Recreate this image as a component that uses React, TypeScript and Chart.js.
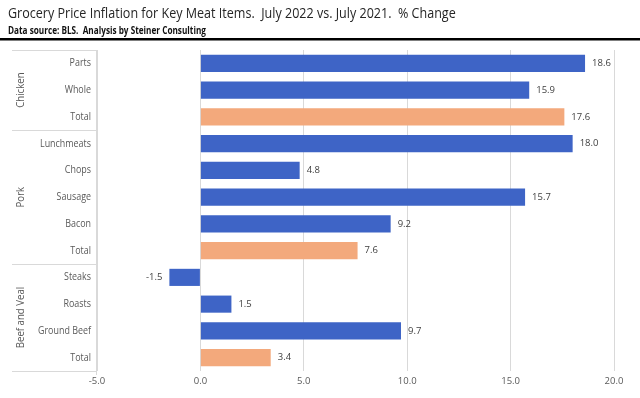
import React, { useEffect, useRef } from "react";
import { Chart, registerables } from "chart.js";

Chart.register(...registerables);

const TITLE = "Grocery Price Inflation for Key Meat Items.  July 2022 vs. July 2021.  % Change";
const SUBTITLE = "Data source: BLS.  Analysis by Steiner Consulting";

const items = ["Parts", "Whole", "Total", "Lunchmeats", "Chops", "Sausage", "Bacon", "Total", "Steaks", "Roasts", "Ground Beef", "Total"];
const values = [18.6, 15.9, 17.6, 18.0, 4.8, 15.7, 9.2, 7.6, -1.5, 1.5, 9.7, 3.4];
const groupNames = ["Chicken", "Pork", "Beef and Veal"];
const groupStarts = [0, 3, 8];
const groupEnds = [2, 7, 11];
const xTicks = [-5, 0, 5, 10, 15, 20];

const BLUE = "#3E64C6";
const ORANGE = "#F3A97C";
const FONT = "'Open Sans', 'Liberation Sans', sans-serif";

function drawScaled(ctx: any, text: string, x: number, y: number, sx: number, align: string) {
  ctx.save();
  ctx.translate(x, y);
  ctx.scale(sx, 1);
  ctx.textAlign = align;
  ctx.fillText(text, 0, 0);
  ctx.restore();
}

const overlay = {
  id: "overlay",
  afterDraw(chart: any) {
    const ctx = chart.ctx;
    const area = chart.chartArea;
    const y = chart.scales.y;
    const x = chart.scales.x;
    ctx.save();
    ctx.textBaseline = "middle";
    // title
    ctx.fillStyle = "#262626";
    ctx.font = `14.5px ${FONT}`;
    drawScaled(ctx, TITLE, 8, 14, 0.865, "left");
    ctx.font = `bold 10px ${FONT}`;
    ctx.fillStyle = "#111";
    drawScaled(ctx, SUBTITLE, 8, 31, 0.82, "left");
    ctx.fillStyle = "#000";
    ctx.fillRect(0, 38, 640, 2.5);

    // group separators
    ctx.strokeStyle = "#d9d9d9";
    ctx.lineWidth = 1;
    const left = 12;
    const axisX = Math.round(area.left) - 0.5;
    const bounds: number[] = [area.top];
    for (let g = 0; g < groupNames.length - 1; g++) {
      bounds.push((y.getPixelForValue(groupEnds[g]) + y.getPixelForValue(groupStarts[g + 1])) / 2);
    }
    bounds.push(area.bottom);
    bounds.forEach((b) => {
      ctx.beginPath();
      ctx.moveTo(left, Math.round(b) + 0.5);
      ctx.lineTo(axisX, Math.round(b) + 0.5);
      ctx.stroke();
    });
    ctx.beginPath();
    ctx.moveTo(axisX, area.top);
    ctx.lineTo(axisX, area.bottom + 4);
    ctx.stroke();

    // category labels
    ctx.fillStyle = "#595959";
    ctx.font = `10.5px ${FONT}`;
    items.forEach((lab, i) => {
      drawScaled(ctx, lab, 91, y.getPixelForValue(i), 0.85, "right");
    });

    // group labels
    ctx.font = `10.5px ${FONT}`;
    groupNames.forEach((name, g) => {
      const cy = (y.getPixelForValue(groupStarts[g]) + y.getPixelForValue(groupEnds[g])) / 2;
      ctx.save();
      ctx.translate(21, cy);
      ctx.rotate(-Math.PI / 2);
      ctx.scale(0.92, 1);
      ctx.textAlign = "center";
      ctx.fillText(name, 0, 0);
      ctx.restore();
    });

    // data labels
    ctx.fillStyle = "#404040";
    ctx.font = `9.5px ${FONT}`;
    values.forEach((v, i) => {
      const py = y.getPixelForValue(i);
      const px = x.getPixelForValue(v);
      if (v >= 0) {
        drawScaled(ctx, v.toFixed(1), px + 7, py, 1, "left");
      } else {
        drawScaled(ctx, v.toFixed(1), px - 7, py, 1, "right");
      }
    });
    ctx.restore();
  },
};

export default function App() {
  const ref = useRef<HTMLCanvasElement>(null);
  useEffect(() => {
    const chart = new Chart(ref.current!, {
      type: "bar",
      data: {
        labels: items,
        datasets: [
          {
            data: values,
            backgroundColor: items.map((l) => (l === "Total" ? ORANGE : BLUE)),
            categoryPercentage: 0.8,
            barPercentage: 0.8,
          },
        ],
      },
      options: {
        indexAxis: "y",
        responsive: false,
        animation: false,
        layout: { padding: { top: 50, right: 26, left: 0, bottom: 0 } },
        plugins: { legend: { display: false }, tooltip: { enabled: false } },
        scales: {
          x: {
            min: -5,
            max: 20,
            afterBuildTicks: (s: any) => {
              s.ticks = xTicks.map((v) => ({ value: v }));
            },
            afterFit: (s: any) => {
              s.height = 27;
            },
            ticks: {
              callback: (v: any) => Number(v).toFixed(1),
              color: "#595959",
              font: { family: FONT, size: 9.5 },
              padding: 5,
            },
            grid: { color: "#d9d9d9", drawTicks: false },
            border: { display: false },
          },
          y: {
            afterFit: (s: any) => {
              s.width = 97;
            },
            ticks: { display: false },
            grid: { display: false },
            border: { display: false },
          },
        },
      },
      plugins: [overlay],
    });
    return () => chart.destroy();
  }, []);
  return (
    <div style={{ position: "absolute", left: 0, top: 0, width: 640, height: 398, background: "#fff" }}>
      <canvas ref={ref} width={640} height={398} style={{ width: 640, height: 398 }} />
    </div>
  );
}
